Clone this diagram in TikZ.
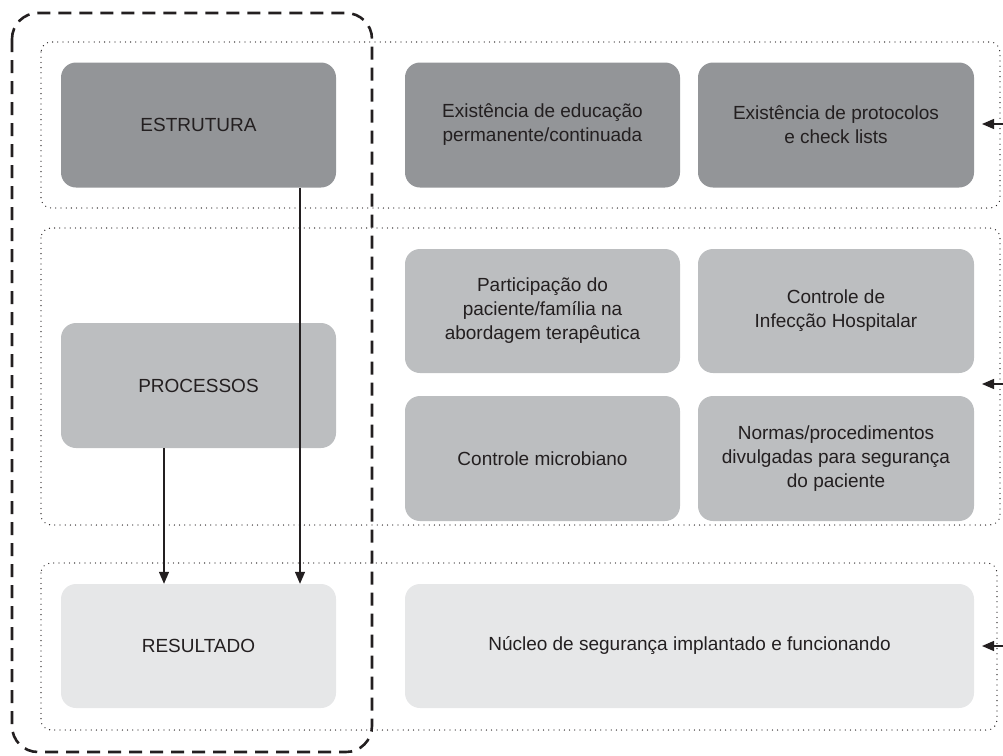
\documentclass[tikz,border=0pt]{standalone}
\usepackage{fontspec}
\setmainfont{Liberation Sans}
\usetikzlibrary{arrows.meta,calc}
\definecolor{dgray}{HTML}{939598}
\definecolor{mgray}{HTML}{BCBEC0}
\definecolor{lgray}{HTML}{E6E7E8}
\definecolor{ink}{HTML}{231F20}
\tikzset{
  box/.style={rounded corners=15pt, draw=none, align=center, text=ink,
    font=\fontsize{19}{24}\selectfont, inner sep=0pt},
  narrow/.style={box, minimum width=275pt, minimum height=125pt},
  dotbox/.style={draw=ink, line width=1.3pt, line cap=round, dash pattern=on 0pt off 5.2pt, rounded corners=10pt},
  dashbox/.style={draw=ink, line width=2.6pt, dash pattern=on 13pt off 8pt, rounded corners=26pt},
  conn/.style={draw=ink, line width=1.3pt, -{Triangle[length=12pt,width=10pt]}}
}
\begin{document}
\begin{tikzpicture}[x=1pt,y=-1pt]
\useasboundingbox (0,0) rectangle (1003,755);
% dotted row frames
\draw[dotbox] (41,42) rectangle (1000,208);
\draw[dotbox] (41,228) rectangle (1000,525);
\draw[dotbox] (41,563) rectangle (997,730);
% nodes
\node[narrow, fill=dgray] (estr) at (198.5,125) {ESTRUTURA};
\node[narrow, fill=dgray] (edu) at (542.5,125) {Existência de educação\\permanente/continuada};
\node[narrow, fill=dgray, minimum width=276pt] (prot) at (836,125) {Existência de protocolos\\e check lists};
\node[narrow, fill=mgray] (proc) at (198.5,385.5) {PROCESSOS};
\node[narrow, fill=mgray, minimum height=124pt] (part) at (542.5,311) {Participação do\\paciente/família na\\abordagem terapêutica};
\node[narrow, fill=mgray, minimum width=276pt, minimum height=124pt] (infec) at (836,311) {Controle de\\Infecção Hospitalar};
\node[narrow, fill=mgray] (micro) at (542.5,458.5) {Controle microbiano};
\node[narrow, fill=mgray, minimum width=276pt] (normas) at (836,458.5) {Normas/procedimentos\\divulgadas para segurança\\do paciente};
\node[narrow, fill=lgray, minimum height=124pt] (res) at (198.5,646) {RESULTADO};
\node[box, fill=lgray, minimum width=569pt, minimum height=124pt] (nucleo) at (689.5,646) {Núcleo de segurança implantado e funcionando};
% dashed outer frame
\draw[dashbox] (12,13) rectangle (372,752);
% vertical connectors
\coordinate (xa) at (300,0);
\coordinate (xb) at (164,0);
\draw[conn] (estr.south -| xa) -- (res.north -| xa);
\draw[conn] (proc.south -| xb) -- (res.north -| xb);
% right incoming arrows
\coordinate (s1) at (1006,124);
\coordinate (t1) at (982,124);
\coordinate (s2) at (1006,384);
\coordinate (t2) at (982,384);
\coordinate (s3) at (1006,646);
\coordinate (t3) at (982,646);
\draw[conn] (s1) -- (t1);
\draw[conn] (s2) -- (t2);
\draw[conn] (s3) -- (t3);
\end{tikzpicture}
\end{document}
